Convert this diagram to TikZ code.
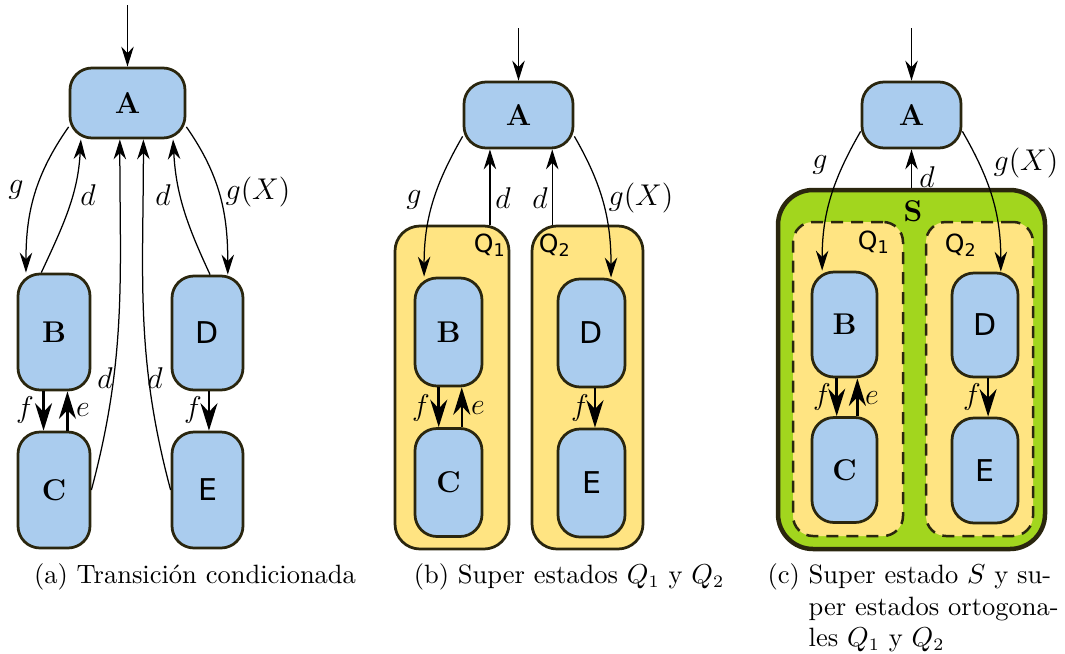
\documentclass[tikz,border=0pt]{standalone}
\usepackage{fontspec}
\newfontfamily\dv{DejaVu Sans}
\usetikzlibrary{arrows.meta,calc}
\definecolor{stblue}{RGB}{170,204,238}
\definecolor{stborder}{RGB}{42,38,14}
\definecolor{qyellow}{RGB}{255,228,130}
\definecolor{sgreen}{RGB}{162,214,30}
\begin{document}
\begin{tikzpicture}[x=0.4pt,y=-0.4pt,
  sz/.style 2 args={minimum width=#1*0.4pt, minimum height=#2*0.4pt},
  stbox/.style={draw=stborder, fill=stblue, line width=1.1pt, rounded corners=8.8pt, inner sep=0pt},
  serifst/.style={stbox, font=\bfseries\large},
  sansst/.style={stbox, font=\dv\large},
  superst/.style={draw=stborder, fill=qyellow, line width=1.1pt, rounded corners=10pt, inner sep=0pt},
  orthobox/.style={draw=stborder, fill=qyellow, line width=1pt, dash pattern=on 4.8pt off 3.2pt, rounded corners=8pt, inner sep=0pt},
  bigbox/.style={draw=stborder, fill=sgreen, line width=1.8pt, rounded corners=14pt, inner sep=0pt},
  arr/.style={-{Stealth[length=8pt,width=5pt,inset=2.6pt]}, line width=0.5pt},
  farr/.style={-{Stealth[length=11pt,width=6.8pt,inset=3.5pt]}, line width=1pt},
  lbl/.style={inner sep=0pt, font=\fontsize{11.5}{13}\selectfont},
  qlbl/.style={inner sep=0pt, font=\dv},
  captxt/.style={inner sep=0pt, font=\fontsize{10.6}{12.7}\selectfont}
]
\useasboundingbox (0,0) rectangle (1065,653);

% ---------------- panel (a)
\node[serifst, sz={115}{70}] (Aa) at (127.5,103) {A};
\node[serifst, sz={72}{116}] (Ba) at (54,332) {B};
\node[serifst, sz={72}{116}] (Ca) at (54,490) {C};
\node[sansst, sz={71}{114}] (Da) at (207.5,333) {D};
\node[sansst, sz={71}{116}] (Ea) at (207.5,490) {E};
\coordinate (ina) at (127.5,5);
\draw[arr] (ina) -- (Aa.north);
\draw[arr] ([yshift=5pt]Aa.south west) to[out=-125,in=90] ($(Ba.north west)!0.125!(Ba.north east)$);
\draw[arr] ($(Ba.north west)!0.33!(Ba.north east)$) to[out=65,in=-93] ($(Aa.south west)!0.104!(Aa.south east)$);
\draw[arr] (Ca.east) to[out=75,in=-90] ($(Aa.south west)!0.435!(Aa.south east)$);
\draw[arr] (Ea.west) to[out=105,in=-90] ($(Aa.south west)!0.635!(Aa.south east)$);
\draw[arr] ($(Da.north west)!0.535!(Da.north east)$) to[out=115,in=-87] ($(Aa.south west)!0.887!(Aa.south east)$);
\draw[arr] ([yshift=5pt]Aa.south east) to[out=-55,in=90] ($(Da.north west)!0.775!(Da.north east)$);
\path ($(Ba.south west)!0.36!(Ba.south east)$) coordinate (fa1);
\path ($(Ca.north west)!0.68!(Ca.north east)$) coordinate (ea1);
\path ($(Da.south west)!0.52!(Da.south east)$) coordinate (fa2);
\draw[farr] (fa1) -- (fa1 |- Ca.north);
\draw[farr] (ea1) -- (ea1 |- Ba.south);
\draw[farr] (fa2) -- (fa2 |- Ea.north);
\node[lbl] (la1) at (16,190) {$g$};
\node[lbl] (la2) at (88,195) {$d$};
\node[lbl] (la3) at (105,378) {$d$};
\node[lbl] (la4) at (155,378) {$d$};
\node[lbl] (la5) at (163,195) {$d$};
\node[lbl] (la6) at (258,192) {$g(X)$};
\node[lbl] (la7) at (25,410) {$f$};
\node[lbl] (la8) at (83,410) {$e$};
\node[lbl] (la9) at (193,410) {$f$};
\node[captxt] (capa) at (195,577) {(a) Transición condicionada};

% ---------------- panel (b)
\node[superst, sz={114}{323}] (Q1b) at (452,387.5) {};
\node[superst, sz={111}{323}] (Q2b) at (587.5,387.5) {};
\node[serifst, sz={109}{66}] (Ab) at (518.5,115) {A};
\node[serifst, sz={67}{108}] (Bb) at (448.5,332) {B};
\node[serifst, sz={67}{108}] (Cb) at (448.5,482.5) {C};
\node[sansst, sz={67}{108}] (Db) at (591.5,333) {D};
\node[sansst, sz={67}{108}] (Eb) at (591.5,483) {E};
\node[qlbl] (q1b) at (490,245) {Q\textsubscript{1}};
\node[qlbl] (q2b) at (555,245) {Q\textsubscript{2}};
\coordinate (inb) at (518.5,28);
\draw[arr] (inb) -- (Ab.north);
\draw[arr] ([yshift=5.2pt]Ab.south west) to[out=-120,in=90] ($(Bb.north west)!0.15!(Bb.north east)$);
\draw[arr] ([yshift=5.2pt]Ab.south east) to[out=-60,in=90] ($(Db.north west)!0.78!(Db.north east)$);
\path ($(Q1b.north west)!0.825!(Q1b.north east)$) coordinate (db1);
\path ($(Q2b.north west)!0.19!(Q2b.north east)$) coordinate (db2);
\draw[arr] (db1) -- (db1 |- Ab.south);
\draw[arr] (db2) -- (db2 |- Ab.south);
\path ($(Bb.south west)!0.36!(Bb.south east)$) coordinate (fb1);
\path ($(Cb.north west)!0.69!(Cb.north east)$) coordinate (eb1);
\path ($(Db.south west)!0.55!(Db.south east)$) coordinate (fb2);
\draw[farr] (fb1) -- (fb1 |- Cb.north);
\draw[farr] (eb1) -- (eb1 |- Bb.south);
\draw[farr] (fb2) -- (fb2 |- Eb.north);
\node[lbl] (lb1) at (414,200) {$g$};
\node[lbl] (lb2) at (503,198) {$d$};
\node[lbl] (lb3) at (540,198) {$d$};
\node[lbl] (lb4) at (641,198) {$g(X)$};
\node[lbl] (lb5) at (421,408) {$f$};
\node[lbl] (lb6) at (478,408) {$e$};
\node[lbl] (lb7) at (580,408) {$f$};
\node[captxt] (capb) at (569,577) {(b) Super estados $Q_1$ y $Q_2$};

% ---------------- panel (c)
\node[bigbox, sz={267}{359}] (Sc) at (911.5,369.5) {};
\node[orthobox, sz={110}{314}] (Q1c) at (848,379) {};
\node[orthobox, sz={107}{314}] (Q2c) at (979.5,379) {};
\node[serifst, sz={99}{66}] (Ac) at (911.5,115) {A};
\node[serifst, sz={65}{105}] (Bc) at (844.5,324.5) {B};
\node[serifst, sz={65}{105}] (Cc) at (844.5,470) {C};
\node[sansst, sz={66}{104}] (Dc) at (985,325) {D};
\node[sansst, sz={66}{105}] (Ec) at (985,470.5) {E};
\node[inner sep=0pt, font=\bfseries\large] (sl) at (913,211) {S};
\node[qlbl] (q1c) at (874,242) {Q\textsubscript{1}};
\node[qlbl] (q2c) at (961,245) {Q\textsubscript{2}};
\coordinate (inc) at (911.5,28);
\draw[arr] (inc) -- (Ac.north);
\draw[arr] (Sc.north) -- (Ac.south);
\draw[arr] ([yshift=7.2pt]Ac.south west) to[out=-120,in=90] ($(Bc.north west)!0.17!(Bc.north east)$);
\draw[arr] ([yshift=7.2pt]Ac.south east) to[out=-60,in=90] ($(Dc.north west)!0.73!(Dc.north east)$);
\path ($(Bc.south west)!0.385!(Bc.south east)$) coordinate (fc1);
\path ($(Cc.north west)!0.69!(Cc.north east)$) coordinate (ec1);
\path ($(Dc.south west)!0.545!(Dc.south east)$) coordinate (fc2);
\draw[farr] (fc1) -- (fc1 |- Cc.north);
\draw[farr] (ec1) -- (ec1 |- Bc.south);
\draw[farr] (fc2) -- (fc2 |- Ec.north);
\node[lbl] (lc1) at (820,165) {$g$};
\node[lbl] (lc2) at (927,177) {$d$};
\node[lbl] (lc3) at (1026,163) {$g(X)$};
\node[lbl] (lc4) at (822,397) {$f$};
\node[lbl] (lc5) at (872,398) {$e$};
\node[lbl] (lc6) at (972,397) {$f$};
\node[captxt, anchor=north west, align=left] (capc) at (767,563)
  {(c) Super estado $S$ y su-\\\hphantom{(c)~}per estados ortogona-\\\hphantom{(c)~}les $Q_1$ y $Q_2$};
\end{tikzpicture}
\end{document}
